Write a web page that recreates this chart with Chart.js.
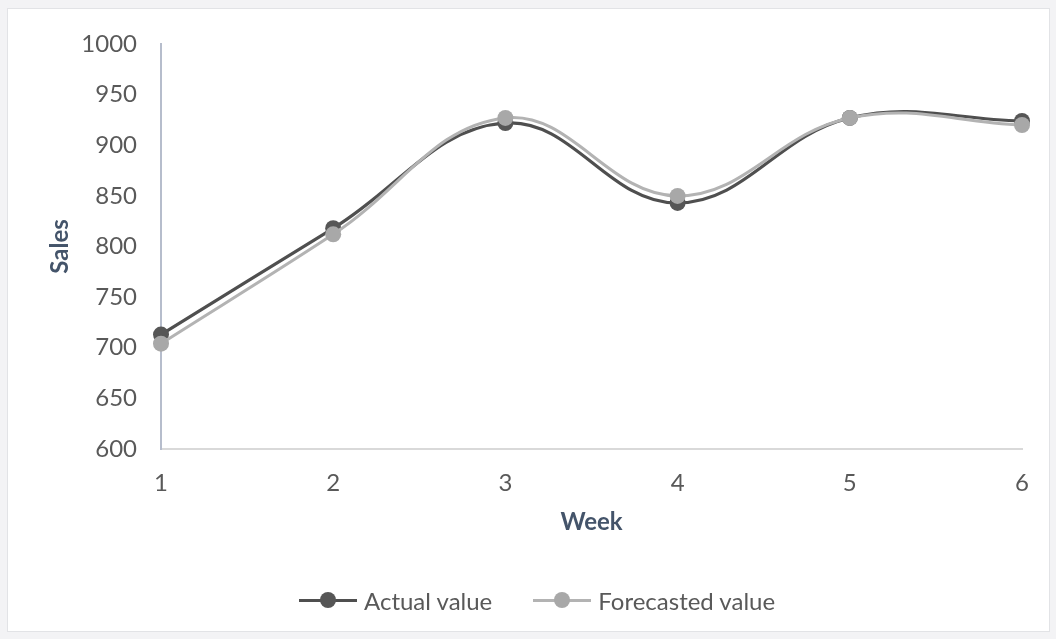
<!DOCTYPE html>
<html>
<head>
<meta charset="utf-8">
<script src="https://cdn.jsdelivr.net/npm/chart.js@4.4.1/dist/chart.umd.min.js"></script>
<style>
  html, body { margin: 0; padding: 0; background: #f3f3f5; }
  #frame { position: absolute; left: 7px; top: 8px; width: 1041px; height: 622px; background: #ffffff; border: 1px solid #e2e3e6; }
  #wrap { position: absolute; left: 0; top: 0; width: 1056px; height: 639px; }
  #legend { position: absolute; left: 298px; top: 586px; height: 28px; display: flex; align-items: center;
            font-family: 'Lato', sans-serif; font-size: 24px; color: #595959; white-space: nowrap; }
  .item { display: flex; align-items: center; margin-right: 40px; }
  .sw { position: relative; width: 60px; height: 20px; margin-right: 6px; }
  .sw .ln { position: absolute; left: 1px; right: 1px; top: 8.5px; height: 3px; }
  .sw .pt { position: absolute; left: 22px; top: 2px; width: 16px; height: 16px; border-radius: 50%; }
</style>
</head>
<body>
<div id="frame"></div>
<div id="wrap"><canvas id="c" width="1056" height="639"></canvas></div>
<div id="legend"></div>
<script>
const weeks = ['1', '2', '3', '4', '5', '6'];
const actualValues = [713, 818, 922, 843, 927, 924];
const forecastValues = [704, 812, 927, 850, 927, 920];
const yTicks = [600, 650, 700, 750, 800, 850, 900, 950, 1000];
const seriesNames = ['Actual value', 'Forecasted value'];

const ACTUAL_LINE = '#4f4f4f';
const ACTUAL_POINT = '#565656';
const FORE_LINE = '#b3b3b3';
const FORE_POINT = '#a8a8a8';

const chart = new Chart(document.getElementById('c'), {
  type: 'line',
  data: {
    labels: weeks,
    datasets: [
      {
        label: seriesNames[0], data: actualValues,
        borderColor: ACTUAL_LINE, backgroundColor: ACTUAL_POINT,
        pointBackgroundColor: ACTUAL_POINT, pointBorderColor: ACTUAL_POINT,
        borderWidth: 3.2, pointRadius: 8, pointBorderWidth: 0, tension: 0.4, order: 2
      },
      {
        label: seriesNames[1], data: forecastValues,
        borderColor: FORE_LINE, backgroundColor: FORE_POINT,
        pointBackgroundColor: FORE_POINT, pointBorderColor: FORE_POINT,
        borderWidth: 3, pointRadius: 8, pointBorderWidth: 0, tension: 0.4, order: 1
      }
    ]
  },
  options: {
    responsive: false,
    animation: false,
    layout: { padding: { top: 44, right: 34, bottom: 59, left: 0 } },
    plugins: {
      tooltip: { enabled: false },
      legend: { display: false }
    },
    scales: {
      x: {
        type: 'category',
        offset: false,
        grid: { display: false, drawTicks: false },
        border: { display: true, color: '#d9d9d9', width: 2 },
        ticks: { color: '#595959', font: { family: 'Lato', size: 24 }, padding: 20, maxRotation: 0 },
        title: { display: true, text: 'Week', color: '#44546a', font: { family: 'Lato', size: 24, weight: 'bold' }, padding: { top: 0, bottom: 43 } },
        afterFit: (s) => { s.height = 131; }
      },
      y: {
        min: 600, max: 1000,
        grid: { display: false, drawTicks: false },
        border: { display: true, color: '#b6bdcc', width: 2 },
        afterBuildTicks: (s) => { s.ticks = yTicks.map(v => ({ value: v })); },
        ticks: { color: '#595959', font: { family: 'Lato', size: 24 }, padding: 24, callback: (v) => String(v) },
        title: { display: true, text: 'Sales', color: '#44546a', font: { family: 'Lato', size: 24, weight: 'bold' }, padding: { top: 46, bottom: 0 } },
        afterFit: (s) => { s.width = 161; }
      }
    }
  }
});

// HTML legend built from the dataset definitions
const legend = document.getElementById('legend');
chart.data.datasets.forEach((ds) => {
  const item = document.createElement('div'); item.className = 'item';
  const sw = document.createElement('div'); sw.className = 'sw';
  const ln = document.createElement('div'); ln.className = 'ln'; ln.style.background = ds.borderColor;
  const pt = document.createElement('div'); pt.className = 'pt'; pt.style.background = ds.pointBackgroundColor;
  sw.appendChild(ln); sw.appendChild(pt);
  const tx = document.createElement('span'); tx.textContent = ds.label;
  item.appendChild(sw); item.appendChild(tx);
  legend.appendChild(item);
});
</script>
</body>
</html>
